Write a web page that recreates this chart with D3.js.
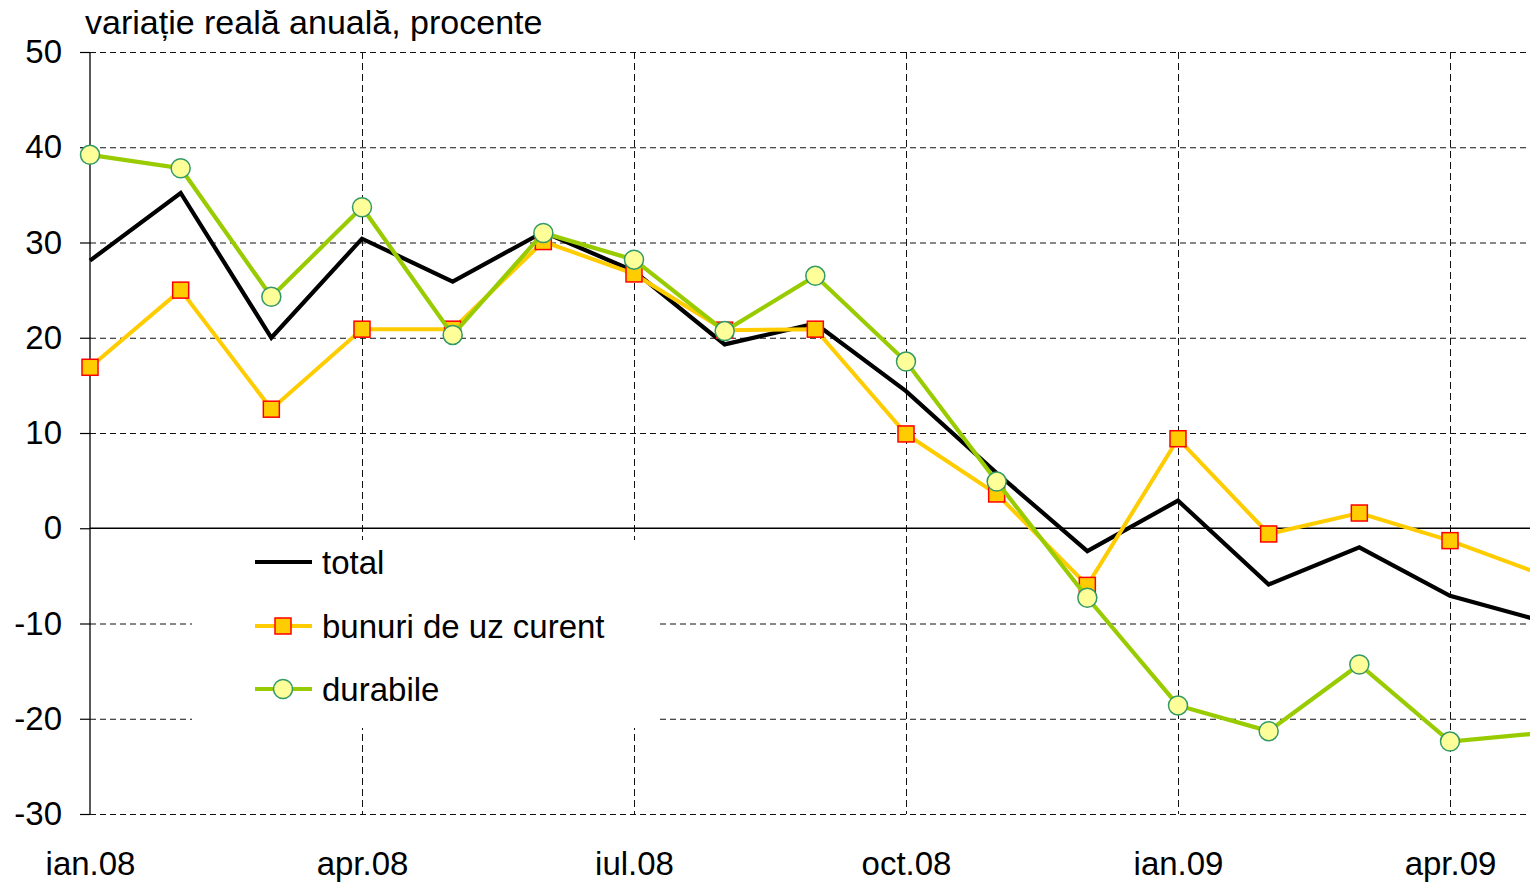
<!DOCTYPE html>
<html>
<head>
<meta charset="utf-8">
<script src="https://cdn.jsdelivr.net/npm/d3@7"></script>
<style>
  html, body { margin: 0; padding: 0; background: #fff; }
  svg { display: block; }
  text { font-family: "Liberation Sans", Arial, sans-serif; fill: #000; }
</style>
</head>
<body>
<svg id="chart" width="1530" height="884"></svg>
<script>
const months = ["ian.08","feb.08","mar.08","apr.08","mai.08","iun.08","iul.08","aug.08","sep.08","oct.08","nov.08","dec.08","ian.09","feb.09","mar.09","apr.09","mai.09"];
const total = [28.1, 35.2, 20.0, 30.4, 25.9, 31.1, 27.0, 19.3, 21.5, 14.4, 5.8, -2.4, 2.9, -5.9, -2.0, -7.1, -9.7];
const bunuriUzCurent = [16.9, 25.0, 12.5, 20.9, 20.9, 30.1, 26.7, 20.8, 20.9, 9.9, 3.6, -6.0, 9.4, -0.6, 1.6, -1.3, -4.8];
const durabile = [39.2, 37.8, 24.3, 33.7, 20.3, 31.0, 28.2, 20.7, 26.5, 17.5, 4.9, -7.3, -18.6, -21.3, -14.3, -22.4, -21.5];
const yTicks = [50, 40, 30, 20, 10, 0, -10, -20, -30];
const xTickLabels = ["ian.08","apr.08","iul.08","oct.08","ian.09","apr.09"];
const seriesNames = ["total", "bunuri de uz curent", "durabile"];
const yTitle = "variație reală anuală, procente";

(function () {
const svg = d3.select("#chart");
const W = 1530;
const pLeft = 90, pTop = 52, pBottom = 814;
const step = (1450 - 90) / 15;

const x = d3.scalePoint().domain(months).range([pLeft, pLeft + step * (months.length - 1)]);
const y = d3.scaleLinear().domain([-30, 50]).range([pBottom, pTop]);

const fs = 33;

// horizontal gridlines
const grid = svg.append("g");
grid.selectAll("line.h").data(yTicks.filter(d => d !== 0)).enter().append("line")
  .attr("x1", pLeft).attr("x2", W)
  .attr("y1", d => y(d) + 0.5).attr("y2", d => y(d) + 0.5)
  .attr("stroke", "#111").attr("stroke-width", 1).attr("stroke-dasharray", "6,4");
// vertical gridlines
grid.selectAll("line.v").data(xTickLabels.slice(1)).enter().append("line")
  .attr("x1", d => x(d) + 0.5).attr("x2", d => x(d) + 0.5)
  .attr("y1", pTop).attr("y2", pBottom)
  .attr("stroke", "#111").attr("stroke-width", 1).attr("stroke-dasharray", "7,4");

// y axis
const yAxis = d3.axisLeft(y).tickValues(yTicks).tickSize(10).tickPadding(18).tickFormat(d => String(d));
const ya = svg.append("g").attr("transform", `translate(${pLeft},0)`).call(yAxis);
ya.select(".domain").attr("stroke", "#000").attr("stroke-width", 1.3).attr("d", `M0,${pTop}V${pBottom}`);
ya.selectAll(".tick line").attr("stroke", "#000").attr("stroke-width", 1.2);
ya.selectAll(".tick text").style("font-size", fs + "px").attr("font-family", "Liberation Sans, Arial, sans-serif").attr("fill", "#000");

// zero line
svg.append("line").attr("x1", pLeft).attr("x2", W).attr("y1", y(0)).attr("y2", y(0))
  .attr("stroke", "#000").attr("stroke-width", 1.5);

// x axis labels
const xAxis = d3.axisBottom(x).tickValues(xTickLabels).tickSize(0).tickPadding(38);
const xa = svg.append("g").attr("transform", `translate(0,${pBottom})`).call(xAxis);
xa.select(".domain").remove();
xa.selectAll(".tick text").style("font-size", fs + "px").attr("font-family", "Liberation Sans, Arial, sans-serif").attr("fill", "#000");

// title
svg.append("text").attr("x", 85).attr("y", 34).style("font-size", "34px").text(yTitle);

// legend background
const lg = svg.append("g");
lg.append("rect").attr("x", 192).attr("y", 540).attr("width", 468).attr("height", 188).attr("fill", "#fff");

const plot = svg.append("g");
const line = d3.line().x((d, i) => x(months[i])).y(d => y(d));

plot.append("path").datum(total).attr("d", line).attr("fill", "none")
  .attr("stroke", "#000").attr("stroke-width", 4.2).attr("stroke-linejoin", "miter");

plot.append("path").datum(bunuriUzCurent).attr("d", line).attr("fill", "none")
  .attr("stroke", "#FFCC00").attr("stroke-width", 4);
plot.selectAll("rect.sq").data(bunuriUzCurent).enter().append("rect")
  .attr("x", (d, i) => x(months[i]) - 8).attr("y", d => y(d) - 8)
  .attr("width", 16).attr("height", 16)
  .attr("fill", "#FFCC00").attr("stroke", "#FF0000").attr("stroke-width", 1.5);

plot.append("path").datum(durabile).attr("d", line).attr("fill", "none")
  .attr("stroke", "#99CC00").attr("stroke-width", 4.2);
plot.selectAll("circle.c").data(durabile).enter().append("circle")
  .attr("cx", (d, i) => x(months[i])).attr("cy", d => y(d)).attr("r", 9.5)
  .attr("fill", "#FFFF99").attr("stroke", "#339966").attr("stroke-width", 1.5);

// legend
const ly = [562, 626, 689];
lg.append("line").attr("x1", 255).attr("x2", 312).attr("y1", ly[0]).attr("y2", ly[0])
  .attr("stroke", "#000").attr("stroke-width", 4.2);
lg.append("line").attr("x1", 255).attr("x2", 312).attr("y1", ly[1]).attr("y2", ly[1])
  .attr("stroke", "#FFCC00").attr("stroke-width", 4);
lg.append("rect").attr("x", 275).attr("y", ly[1] - 8).attr("width", 16).attr("height", 16)
  .attr("fill", "#FFCC00").attr("stroke", "#FF0000").attr("stroke-width", 1.5);
lg.append("line").attr("x1", 255).attr("x2", 312).attr("y1", ly[2]).attr("y2", ly[2])
  .attr("stroke", "#99CC00").attr("stroke-width", 4.2);
lg.append("circle").attr("cx", 283).attr("cy", ly[2]).attr("r", 9.5)
  .attr("fill", "#FFFF99").attr("stroke", "#339966").attr("stroke-width", 1.5);
lg.selectAll("text.l").data(seriesNames).enter().append("text")
  .attr("x", 322).attr("y", (d, i) => ly[i]).attr("dy", "0.35em")
  .style("font-size", fs + "px").text(d => d);
})();
</script>
</body>
</html>
